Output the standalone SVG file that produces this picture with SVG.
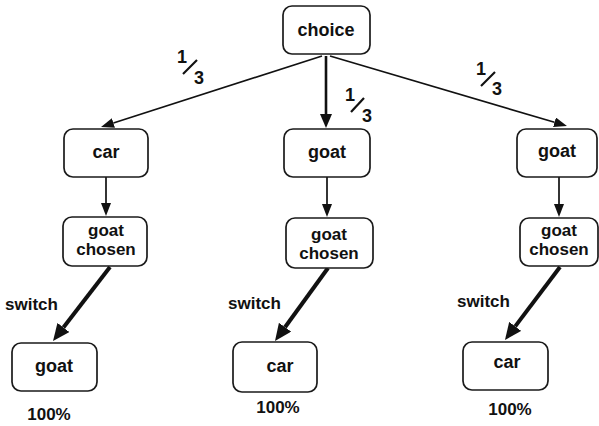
<svg xmlns="http://www.w3.org/2000/svg" width="599" height="426" viewBox="0 0 599 426">
  <style>
    .box { fill: #fff; stroke: #1a1a1a; stroke-width: 1.7; }
    .lbl { font-family: "Liberation Sans", Arial, sans-serif; font-weight: bold; font-size: 18px; fill: #111; text-anchor: middle; }
    .lbl2 { font-family: "Liberation Sans", Arial, sans-serif; font-weight: bold; font-size: 17px; fill: #111; text-anchor: middle; }
    .note { font-family: "Liberation Sans", Arial, sans-serif; font-weight: bold; font-size: 17px; fill: #111; }
    .frac { font-family: "Liberation Sans", Arial, sans-serif; font-weight: bold; font-size: 18px; fill: #111; text-anchor: middle; }
    .slash { stroke: #111; stroke-width: 2.2; fill: none; }
    .thin { stroke: #111; stroke-width: 1.7; fill: none; marker-end: url(#head-thin); }
    .mid { stroke: #111; stroke-width: 2.6; fill: none; marker-end: url(#head-mid); }
    .thick { stroke: #111; stroke-width: 4; fill: none; marker-end: url(#head-thick); }
  </style>
  <defs>
    <marker id="head-thin" viewBox="0 0 13 10" markerWidth="13" markerHeight="10" refX="0" refY="5" markerUnits="userSpaceOnUse" orient="auto">
      <path d="M0,0 L13,5 L0,10 z" fill="#111"/>
    </marker>
    <marker id="head-mid" viewBox="0 0 14 12" markerWidth="14" markerHeight="12" refX="0" refY="6" markerUnits="userSpaceOnUse" orient="auto">
      <path d="M0,0 L14,6 L0,12 z" fill="#111"/>
    </marker>
    <marker id="head-thick" viewBox="0 0 17 15" markerWidth="17" markerHeight="15" refX="0" refY="7.5" markerUnits="userSpaceOnUse" orient="auto">
      <path d="M0,0 L17,7.5 L0,15 z" fill="#111"/>
    </marker>
  </defs>

  <rect width="599" height="426" fill="#fff"/>

  <!-- connectors -->
  <g id="connectors">
    <line class="thin" x1="322" y1="56" x2="113.4" y2="123"/>
    <line class="mid" x1="326" y1="56" x2="326" y2="114"/>
    <line class="thin" x1="330" y1="56" x2="554.5" y2="122.3"/>
    <line class="thin" x1="106" y1="177" x2="106" y2="203"/>
    <line class="thin" x1="327" y1="177" x2="327" y2="204"/>
    <line class="thin" x1="559" y1="177" x2="559" y2="204"/>
    <line class="thick" x1="110" y1="267" x2="63.4" y2="327.5"/>
    <line class="thick" x1="328" y1="268" x2="285" y2="327.2"/>
    <line class="thick" x1="560" y1="267" x2="515.2" y2="326.4"/>

    <!-- probability labels -->
    <g id="p-left">
      <text class="frac" x="182" y="63">1</text>
      <line class="slash" x1="197" y1="60" x2="183" y2="74"/>
      <text class="frac" x="199" y="84">3</text>
    </g>
    <g id="p-mid">
      <text class="frac" x="350" y="101">1</text>
      <line class="slash" x1="364" y1="98" x2="351" y2="112"/>
      <text class="frac" x="367" y="122">3</text>
    </g>
    <g id="p-right">
      <text class="frac" x="481" y="75">1</text>
      <line class="slash" x1="495" y1="72" x2="481" y2="86"/>
      <text class="frac" x="497" y="95">3</text>
    </g>

    <text class="note" x="5" y="310">switch</text>
    <text class="note" x="228" y="309">switch</text>
    <text class="note" x="457" y="307">switch</text>
  </g>

  <!-- top node -->
  <g id="choice">
    <rect class="box" x="283" y="6" width="87" height="48" rx="9"/>
    <text class="lbl" x="326" y="36">choice</text>
  </g>

  <!-- first door -->
  <g id="first-car">
    <rect class="box" x="64" y="129" width="84" height="48" rx="9"/>
    <text class="lbl" x="106" y="158">car</text>
  </g>
  <g id="first-goat-chosen">
    <rect class="box" x="63" y="217" width="84" height="49" rx="9"/>
    <text class="lbl2" x="106" y="236">goat</text>
    <text class="lbl2" x="106" y="255">chosen</text>
  </g>
  <g id="first-result">
    <rect class="box" x="12" y="343" width="85" height="48" rx="9"/>
    <text class="lbl" x="54" y="372">goat</text>
    <text class="note" x="49" y="420" text-anchor="middle">100%</text>
  </g>

  <!-- second door -->
  <g id="second-goat">
    <rect class="box" x="284" y="129" width="86" height="48" rx="9"/>
    <text class="lbl" x="327" y="158">goat</text>
  </g>
  <g id="second-goat-chosen">
    <rect class="box" x="286" y="218" width="87" height="50" rx="9"/>
    <text class="lbl2" x="329" y="240">goat</text>
    <text class="lbl2" x="329" y="259">chosen</text>
  </g>
  <g id="second-result">
    <rect class="box" x="233" y="342" width="84" height="50" rx="9"/>
    <text class="lbl" x="280" y="372">car</text>
    <text class="note" x="278" y="413" text-anchor="middle">100%</text>
  </g>

  <!-- third door -->
  <g id="third-goat">
    <rect class="box" x="517" y="129" width="80" height="48" rx="9"/>
    <text class="lbl" x="557" y="157">goat</text>
  </g>
  <g id="third-goat-chosen">
    <rect class="box" x="520" y="218" width="78" height="48" rx="9"/>
    <text class="lbl2" x="559" y="236">goat</text>
    <text class="lbl2" x="559" y="255">chosen</text>
  </g>
  <g id="third-result">
    <rect class="box" x="463" y="342" width="85" height="48" rx="9"/>
    <text class="lbl" x="507" y="368">car</text>
    <text class="note" x="510" y="415" text-anchor="middle">100%</text>
  </g>
</svg>
